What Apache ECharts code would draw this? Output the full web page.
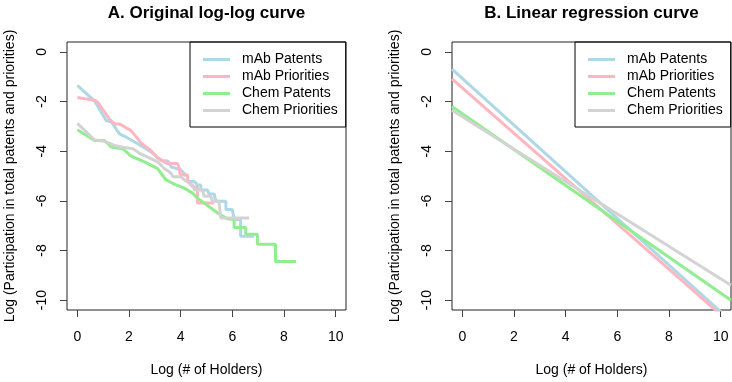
<!DOCTYPE html>
<html>
<head>
<meta charset="utf-8">
<script src="https://cdn.jsdelivr.net/npm/echarts@6/dist/echarts.min.js"></script>
<style>
html, body { margin: 0; padding: 0; background: #fff; }
#chart { width: 732px; height: 382px; }
</style>
</head>
<body>
<div id="chart"></div>
<script>
// series names and colours
const seriesNames = ['mAb Patents', 'mAb Priorities', 'Chem Patents', 'Chem Priorities']
const seriesColors = ['#ADD8E6', '#FFB6C1', '#90EE90', '#D3D3D3']

// tick labels
const xTicks = [0, 2, 4, 6, 8, 10]
const yTicks = [0, -2, -4, -6, -8, -10]

// A. original log-log curves, [log holders, log participation]
const mabPatents = [
  [0, -1.35], [0.67, -1.98], [1.12, -2.77], [1.31, -2.81], [1.63, -3.3], [1.83, -3.4],
  [2.34, -3.7], [2.73, -3.95], [2.85, -4.03], [3.24, -4.37], [3.5, -4.4], [3.63, -4.63],
  [4.01, -4.76], [4.27, -5.03], [4.27, -5.22], [4.53, -5.22], [4.65, -5.36], [4.78, -5.36],
  [4.78, -5.56], [5.04, -5.56], [5.1, -5.73], [5.3, -5.73], [5.36, -6.02], [5.75, -6.02],
  [5.75, -6.35], [6.0, -6.35], [6.07, -6.75], [6.32, -6.75], [6.32, -7.43], [6.84, -7.43]
]
const mabPriorities = [
  [0, -1.84], [0.67, -1.95], [0.8, -2.04], [1.25, -2.72], [1.44, -2.9], [1.63, -2.9],
  [2.08, -3.17], [2.47, -3.67], [2.66, -3.83], [2.85, -3.97], [3.11, -4.27], [3.37, -4.43],
  [3.5, -4.5], [3.88, -4.5], [3.95, -4.7], [3.98, -4.96], [4.27, -4.96], [4.27, -5.22],
  [4.46, -5.42], [4.65, -5.45], [4.65, -6.09], [5.3, -6.09]
]
const chemPatents = [
  [0, -3.14], [0.67, -3.57], [1.05, -3.57], [1.31, -3.83], [1.76, -3.9], [2.08, -4.2],
  [2.6, -4.43], [2.85, -4.56], [3.11, -4.7], [3.24, -4.89], [3.43, -5.15], [3.75, -5.33],
  [4.14, -5.49], [4.46, -5.69], [4.65, -5.89], [4.91, -6.09], [5.17, -6.29], [5.43, -6.49],
  [5.81, -6.72], [6.07, -6.75], [6.07, -7.08], [6.52, -7.08], [6.52, -7.35], [6.97, -7.35],
  [6.97, -7.75], [7.67, -7.75], [7.67, -8.45], [8.47, -8.45]
]
const chemPriorities = [
  [0, -2.88], [0.67, -3.55], [1.05, -3.6], [1.44, -3.77], [1.83, -3.85], [2.15, -3.9],
  [2.47, -4.12], [2.85, -4.3], [3.11, -4.43], [3.37, -4.7], [3.63, -4.89], [3.7, -5.03],
  [4.01, -5.03], [4.14, -5.16], [4.46, -5.36], [4.53, -5.56], [4.85, -5.56], [4.91, -5.82],
  [5.17, -5.82], [5.23, -6.02], [5.48, -6.02], [5.55, -6.69], [6.65, -6.69]
]
const curves = [mabPatents, mabPriorities, chemPatents, chemPriorities]

// B. fitted regression lines: log participation = intercept + slope * log holders
const regIntercepts = [-1.07, -1.455, -2.49, -2.61]
const regSlopes = [-0.94, -0.913, -0.723, -0.653]

const xMin = -0.4
const xMax = 10.4
const fontFamily = 'Liberation Sans, Arial, sans-serif'

const chart = echarts.init(document.getElementById('chart'))

function makeXAxis (gridIndex) {
  return {
    type: 'value',
    gridIndex: gridIndex,
    min: xMin,
    max: xMax,
    splitLine: { show: false },
    axisLine: { show: false, onZero: false },
    axisTick: { show: true, length: 7, customValues: xTicks, lineStyle: { color: '#444' } },
    axisLabel: { customValues: xTicks, margin: 20, fontSize: 14, color: '#000', fontFamily: fontFamily },
    name: 'Log (# of Holders)',
    nameLocation: 'middle',
    nameGap: 53,
    nameTextStyle: { fontSize: 14, color: '#000', fontFamily: fontFamily }
  }
}

function makeYAxis (gridIndex) {
  return {
    type: 'value',
    gridIndex: gridIndex,
    min: -10.4,
    max: 0.4,
    splitLine: { show: false },
    axisLine: { show: false, onZero: false },
    axisTick: { show: true, length: 7, customValues: yTicks, lineStyle: { color: '#444' } },
    axisLabel: { customValues: yTicks, rotate: 90, margin: 18, fontSize: 14, color: '#000', fontFamily: fontFamily },
    name: 'Log (Participation in total patents and priorities)',
    nameLocation: 'middle',
    nameGap: 50,
    nameTextStyle: { fontSize: 14, color: '#000', fontFamily: fontFamily }
  }
}

function makeLegend (left) {
  return {
    orient: 'vertical',
    left: left,
    top: 42,
    padding: [10, 8, 9, 13],
    itemWidth: 27,
    itemHeight: 3,
    itemGap: 2,
    icon: 'rect',
    borderColor: '#000',
    borderWidth: 1,
    borderRadius: 0,
    selectedMode: false,
    textStyle: { fontSize: 14, lineHeight: 15, color: '#000', fontFamily: fontFamily, padding: [0, 0, 0, 7] },
    data: seriesNames
  }
}

const series = []
curves.forEach((pts, i) => {
  series.push({
    name: seriesNames[i],
    type: 'line',
    xAxisIndex: 0,
    yAxisIndex: 0,
    data: pts,
    symbol: 'none',
    color: seriesColors[i],
    lineStyle: { width: 3, color: seriesColors[i] },
    clip: true
  })
})
regIntercepts.forEach((a, i) => {
  series.push({
    name: seriesNames[i],
    type: 'line',
    xAxisIndex: 1,
    yAxisIndex: 1,
    data: [[xMin, a + regSlopes[i] * xMin], [xMax, a + regSlopes[i] * xMax]],
    symbol: 'none',
    color: seriesColors[i],
    lineStyle: { width: 3, color: seriesColors[i] },
    clip: true
  })
})

chart.setOption({
  animation: false,
  backgroundColor: '#fff',
  grid: [
    { left: 67, top: 42, width: 279, height: 271, show: true, borderColor: '#222', borderWidth: 1, backgroundColor: 'transparent' },
    { left: 452, top: 42, width: 279, height: 271, show: true, borderColor: '#222', borderWidth: 1, backgroundColor: 'transparent' }
  ],
  xAxis: [makeXAxis(0), makeXAxis(1)],
  yAxis: [makeYAxis(0), makeYAxis(1)],
  legend: [makeLegend(190), makeLegend(575)],
  graphic: [
    { type: 'text', x: 206.5, y: 13, style: { text: 'A. Original log-log curve', fontSize: 17, fontWeight: 'bold', fontFamily: fontFamily, fill: '#000', textAlign: 'center', textVerticalAlign: 'middle' } },
    { type: 'text', x: 591.5, y: 13, style: { text: 'B. Linear regression curve', fontSize: 17, fontWeight: 'bold', fontFamily: fontFamily, fill: '#000', textAlign: 'center', textVerticalAlign: 'middle' } }
  ],
  series: series
})
</script>
</body>
</html>
